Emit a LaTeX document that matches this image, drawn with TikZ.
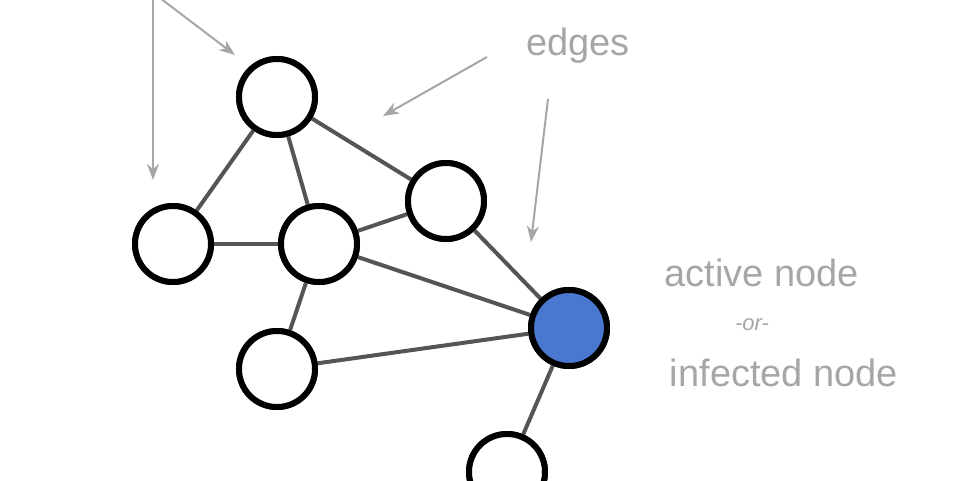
\documentclass[tikz,border=0pt]{standalone}
\usepackage{fontspec}
\setmainfont{Liberation Sans}
\usetikzlibrary{arrows.meta}
\definecolor{edgec}{HTML}{555555}
\definecolor{lab}{HTML}{A6A6A6}
\definecolor{act}{HTML}{4A78D0}
\begin{document}
\begin{tikzpicture}[x=1pt,y=-1pt,
  nd/.style={circle,draw=black,line width=6pt,minimum size=76pt,inner sep=0pt,fill=white},
  ed/.style={draw=edgec,line width=4pt},
  ar/.style={draw=lab,line width=2pt,-{Stealth[length=16pt,width=12pt,inset=5pt]}},
  tx/.style={text=lab,inner sep=0pt,anchor=base}]
\useasboundingbox (0,0) rectangle (978,480);
\node[nd] (A) at (277,97) {};
\node[nd] (B) at (173,244) {};
\node[nd] (C) at (319,244) {};
\node[nd] (D) at (446,201) {};
\node[nd,fill=act] (E) at (569,328) {};
\node[nd] (F) at (277,369) {};
\node[nd] (G) at (507,472) {};
\begin{scope}[on background layer/.style={}]
\end{scope}
\foreach \u/\v in {A/B,A/C,A/D,B/C,C/D,C/E,D/E,C/F,F/E,E/G}
  \draw[ed] (\u) -- (\v);
\foreach \n in {A,B,C,D,F,G} \node[nd] at (\n) {};
\node[nd,fill=act] at (E) {};
\coordinate (s1) at (153,-2);
\coordinate (t1) at (153,180);
\coordinate (s2) at (160,-2);
\coordinate (t2) at (235,55);
\coordinate (s3) at (487,57);
\coordinate (t3) at (383,116);
\coordinate (s4) at (548,99);
\coordinate (t4) at (531,242);
\draw[ar] (s1) -- (t1);
\draw[ar] (s2) -- (t2);
\draw[ar] (s3) -- (t3);
\draw[ar] (s4) -- (t4);
\node[tx,font=\fontsize{38}{40}\selectfont] (e) at (578,55) {edges};
\node[tx,font=\fontsize{38}{40}\selectfont] (a) at (762,286) {active node};
\node[tx,font=\itshape\fontsize{22}{24}\selectfont] (o) at (752,330) {-or-};
\node[tx,font=\fontsize{38}{40}\selectfont] (i) at (784,386) {infected node};
\end{tikzpicture}
\end{document}
